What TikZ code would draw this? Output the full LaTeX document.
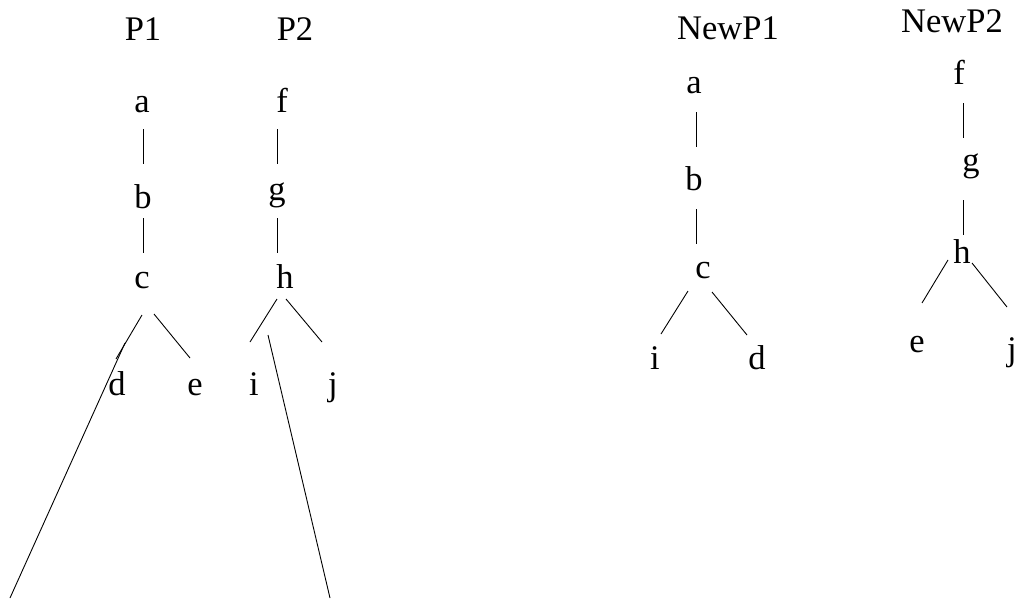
\documentclass[tikz,border=0pt]{standalone}
\usepackage{fontspec}
\setmainfont{Liberation Serif}
\usetikzlibrary{calc}
\tikzset{
  lbl/.style={inner sep=0pt, anchor=base, font=\fontsize{34.5}{40}\selectfont},
  edge/.style={draw=black, line width=0.9pt}
}
\begin{document}
\begin{tikzpicture}[x=1pt, y=-1pt]
\useasboundingbox (0,0) rectangle (1021,600);

% titles
\node[lbl] (tP1) at (143,40) {P1};
\node[lbl] (tP2) at (295,40) {P2};
\node[lbl] (tN1) at (728,39) {NewP1};
\node[lbl] (tN2) at (952,32) {NewP2};

% tree P1
\node[lbl] (a1) at (142,112) {a};
\node[lbl] (b1) at (143,208) {b};
\node[lbl] (c1) at (142,288) {c};
\node[lbl] (d1) at (117,395) {d};
\node[lbl] (e1) at (195,395) {e};
\draw[edge] ($(a1.base)+(1,17)$) -- ($(b1.base)+(0,-44)$);
\draw[edge] ($(b1.base)+(0,10)$) -- ($(c1.base)+(1,-35)$);
\draw[edge] ($(c1.base)+(0,27)$) -- ($(d1.base)+(-1,-36)$);
\draw[edge] ($(c1.base)+(12,26)$) -- ($(e1.base)+(-5,-37)$);
\coordinate (lowL) at (10,598);
\draw[edge] ($(d1.base)+(8,-52)$) -- (lowL);

% tree P2
\node[lbl] (f2) at (282,112) {f};
\node[lbl] (g2) at (277,200) {g};
\node[lbl] (h2) at (285,288) {h};
\node[lbl] (i2) at (254,395) {i};
\node[lbl] (j2) at (333,395) {j};
\draw[edge] ($(f2.base)+(-5,17)$) -- ($(g2.base)+(0,-36)$);
\draw[edge] ($(g2.base)+(0,18)$) -- ($(h2.base)+(-8,-35)$);
\draw[edge] ($(h2.base)+(-8,11)$) -- ($(i2.base)+(-4,-53)$);
\draw[edge] ($(h2.base)+(1,11)$) -- ($(j2.base)+(-11,-53)$);
\coordinate (lowR) at (330,598);
\draw[edge] ($(i2.base)+(14,-60)$) -- (lowR);

% tree NewP1
\node[lbl] (a3) at (694,93) {a};
\node[lbl] (b3) at (694,190) {b};
\node[lbl] (c3) at (703,278) {c};
\node[lbl] (i3) at (655,369) {i};
\node[lbl] (d3) at (757,369) {d};
\draw[edge] ($(a3.base)+(2,19)$) -- ($(b3.base)+(2,-43)$);
\draw[edge] ($(b3.base)+(2,19)$) -- ($(c3.base)+(-7,-34)$);
\draw[edge] ($(c3.base)+(-15,13)$) -- ($(i3.base)+(6,-35)$);
\draw[edge] ($(c3.base)+(9,14)$) -- ($(d3.base)+(-10,-34)$);

% tree NewP2
\node[lbl] (f4) at (959,84) {f};
\node[lbl] (g4) at (971,171) {g};
\node[lbl] (h4) at (962,263) {h};
\node[lbl] (e4) at (917,352) {e};
\node[lbl] (j4) at (1012,360) {j};
\draw[edge] ($(f4.base)+(4,19)$) -- ($(g4.base)+(-8,-33)$);
\draw[edge] ($(g4.base)+(-8,29)$) -- ($(h4.base)+(1,-28)$);
\draw[edge] ($(h4.base)+(-14,-3)$) -- ($(e4.base)+(5,-49)$);
\draw[edge] ($(h4.base)+(10,0)$) -- ($(j4.base)+(-5,-53)$);
\end{tikzpicture}
\end{document}
